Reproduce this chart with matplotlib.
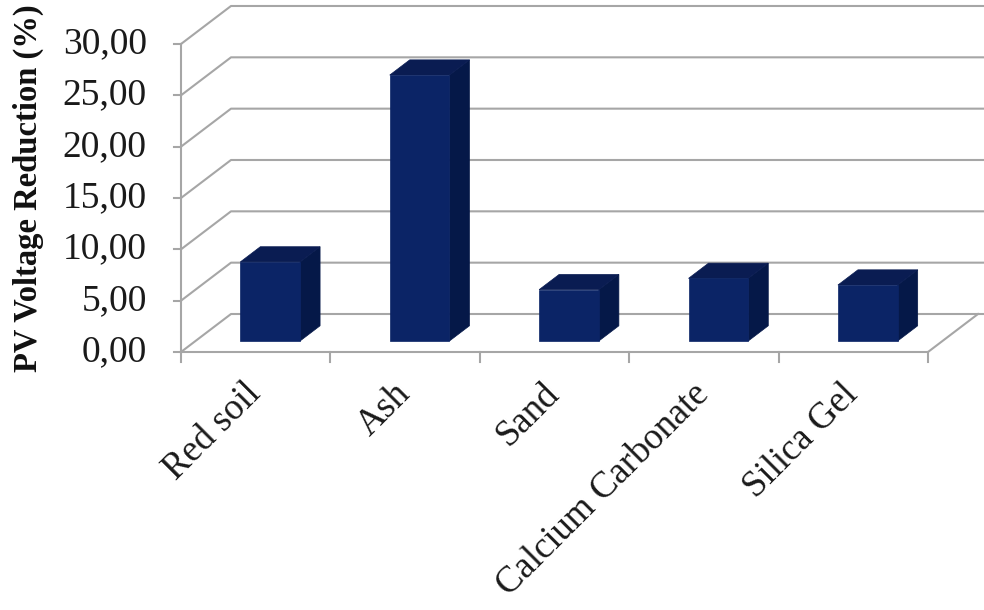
import matplotlib
matplotlib.use("Agg")
import matplotlib.pyplot as plt
from matplotlib.patches import Polygon

categories = ["Red soil", "Ash", "Sand", "Calcium Carbonate", "Silica Gel"]
values = [7.7, 25.9, 5.0, 6.1, 5.45]
yticks = [0, 5, 10, 15, 20, 25, 30]
ylabel = "PV Voltage Reduction (%)"

# layout (pixel-based oblique projection)
W, H = 984, 610
PX_X0, PX_CAT = 181.0, 149.4      # front floor left edge, px per category
PX_Y0, PX_VAL = 352.0, 10.267     # front floor y (from top), px per unit
DEPTH_DX, DEPTH_DY = 50.0 / PX_CAT, 38.0 / PX_VAL  # full depth offset in data units

fig = plt.figure(figsize=(W / 100, H / 100), dpi=100)
ax = fig.add_axes([0, 0, 1, 1])
ax.set_xlim(-PX_X0 / PX_CAT, (W - PX_X0) / PX_CAT)
ax.set_ylim(-(H - PX_Y0) / PX_VAL, PX_Y0 / PX_VAL)
ax.axis("off")

n = len(categories)
grid_c = "#a6a6a6"
lw = 1.5

def proj(x, y, d):
    return x + d * DEPTH_DX, y + d * DEPTH_DY

# walls / gridlines
for v in yticks:
    x0, y0 = proj(0, v, 0)
    x1, y1 = proj(0, v, 1)
    x2, y2 = proj(n, v, 1)
    ax.plot([x0, x1, x2 + 0.05], [y0, y1, y2], color=grid_c, lw=lw, zorder=1,
            solid_capstyle="butt")
    # tick mark on front vertical axis
    ax.plot([x0 - 0.05, x0], [v, v], color=grid_c, lw=lw, zorder=1)
    ax.text(x0 - 0.23, v, f"{v:.2f}".replace(".", ","), ha="right", va="center",
            fontsize=27, family="Liberation Serif", color="#1a1a1a")

# front vertical axis
ax.plot([0, 0], [0, yticks[-1]], color=grid_c, lw=lw, zorder=1)
# floor outline
fx = [proj(0, 0, 0)[0], proj(n, 0, 0)[0], proj(n, 0, 1)[0]]
fy = [proj(0, 0, 0)[1], proj(n, 0, 0)[1], proj(n, 0, 1)[1]]
ax.plot(fx, fy, color=grid_c, lw=lw, zorder=1)
# category ticks
for i in range(n + 1):
    ax.plot([i, i], [0, -1.0], color=grid_c, lw=lw, zorder=1)

# bars
front_c, side_c, top_c = "#0b2466", "#051848", "#0a1c52"
d0, d1 = 0.29, 0.69
half_w = 0.20
for i, v in enumerate(values):
    xc = i + 0.5
    xl, xr = xc - half_w, xc + half_w
    # side face
    p = [proj(xr, 0, d0), proj(xr, 0, d1), proj(xr, v, d1), proj(xr, v, d0)]
    ax.add_patch(Polygon(p, closed=True, fc=side_c, ec=side_c, lw=0.5, zorder=3))
    # top face
    p = [proj(xl, v, d0), proj(xr, v, d0), proj(xr, v, d1), proj(xl, v, d1)]
    ax.add_patch(Polygon(p, closed=True, fc=top_c, ec=top_c, lw=0.5, zorder=3))
    # front face
    p = [proj(xl, 0, d0), proj(xr, 0, d0), proj(xr, v, d0), proj(xl, v, d0)]
    ax.add_patch(Polygon(p, closed=True, fc=front_c, ec=front_c, lw=0.5, zorder=4))

# category labels
for i, c in enumerate(categories):
    ax.text(i + 0.58, -2.4, c, rotation=45, ha="right", va="top",
            fontsize=26.5, family="Liberation Serif", color="#1a1a1a")

# y label
ax.text((28 - PX_X0) / PX_CAT, (PX_Y0 - 188) / PX_VAL, ylabel, rotation=90,
        ha="center", va="center", fontsize=23.5, fontweight="bold",
        family="Liberation Serif", color="#111111")

fig.savefig("out.png", dpi=100)
